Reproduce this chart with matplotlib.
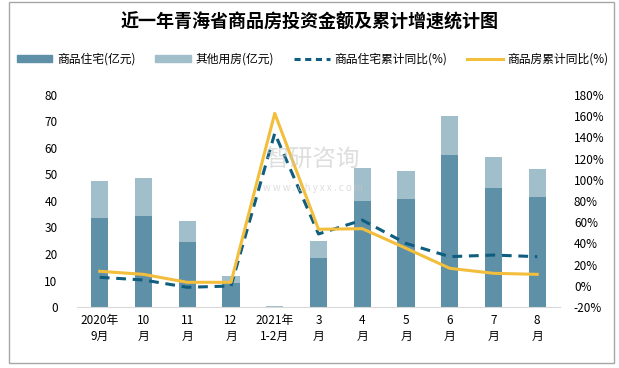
import matplotlib
matplotlib.use('Agg')
from matplotlib import pyplot as plt
from matplotlib.lines import Line2D
from matplotlib.patches import Patch, Rectangle

plt.rcParams['font.family'] = ['Noto Sans CJK SC', 'DejaVu Sans']

months = ['2020年\n9月', '10\n月', '11\n月', '12\n月', '2021年\n1-2月',
          '3\n月', '4\n月', '5\n月', '6\n月', '7\n月', '8\n月']
residential = [33.7, 34.5, 24.5, 9.2, 0.0, 18.5, 40.0, 40.9, 57.4, 44.9, 41.5]
other = [13.8, 14.2, 8.0, 2.5, 0.4, 6.4, 12.3, 10.4, 14.7, 11.7, 10.6]
res_yoy = [8.0, 5.5, -1.4, -0.2, 143.9, 48.9, 62.0, 40.0, 27.5, 29.0, 27.5]
all_yoy = [13.7, 10.8, 3.3, 3.3, 162.7, 53.3, 53.9, 35.4, 16.5, 11.8, 10.8]

c_res = '#5E90A8'
c_oth = '#A1BECB'
c_dash = '#0F5D7F'
c_yel = '#F2BE3C'

fig = plt.figure(figsize=(6.19, 3.68), dpi=100)
fig.patches.append(Rectangle((9 / 619, 5 / 368), 605 / 619, 361 / 368, transform=fig.transFigure,
                             fill=False, edgecolor='#A6A6A6', linewidth=1))

ax = fig.add_axes([77 / 619, 61 / 368, 483 / 619, 212 / 368])
x = range(len(months))
ax.bar(x, residential, width=0.39, color=c_res, zorder=2)
ax.bar(x, other, width=0.39, bottom=residential, color=c_oth, zorder=2)
ax.set_ylim(0, 80)
ax.set_xlim(-0.52, 10.52)
ax.set_yticks(range(0, 81, 10))
ax.set_xticks(list(x))
ax.set_xticklabels(months, fontsize=8.5, linespacing=1.3)
for s in ['top', 'right', 'left']:
    ax.spines[s].set_visible(False)
ax.spines['bottom'].set_color('#D9D9D9')
ax.tick_params(axis='both', length=0, labelsize=8.5)
ax.tick_params(axis='y', pad=14)
ax.tick_params(axis='x', pad=5)

ax2 = ax.twinx()
ax2.plot(x, res_yoy, color=c_dash, linewidth=2.2, linestyle=(0, (3.2, 2.2)), zorder=3)
ax2.plot(x, all_yoy, color=c_yel, linewidth=2.2, zorder=3)
ax2.set_ylim(-20, 180)
ax2.set_yticks(range(-20, 181, 20))
ax2.set_yticklabels([f'{v}%' for v in range(-20, 181, 20)])
for s in ax2.spines.values():
    s.set_visible(False)
ax2.tick_params(axis='y', length=0, labelsize=8.5, pad=10)

# watermark
fig.text(0.505, 0.565, '智研咨询', fontsize=17, color='#C8C8C8', alpha=0.6, ha='center', va='center')
fig.text(0.505, 0.49, 'w w w . c h y x x . c o m', fontsize=7, color='#C8C8C8', alpha=0.6,
         ha='center', va='center')

fig.text(0.5, 0.94, '近一年青海省商品房投资金额及累计增速统计图', fontsize=13,
         fontweight='bold', ha='center', va='center')

handles = [Patch(color=c_res), Patch(color=c_oth),
           Line2D([], [], color=c_dash, linewidth=2.2, linestyle=(0, (2, 1.5))),
           Line2D([], [], color=c_yel, linewidth=2.2)]
labels = ['商品住宅(亿元)', '其他用房(亿元)', '商品住宅累计同比(%)', '商品房累计同比(%)']
fig.legend(handles, labels, loc='center', bbox_to_anchor=(0.505, 0.84), ncol=4, frameon=False,
           fontsize=8.5, handlelength=3.0, handleheight=0.5, columnspacing=1.7, handletextpad=0.4)

fig.savefig('out.png', dpi=100)
